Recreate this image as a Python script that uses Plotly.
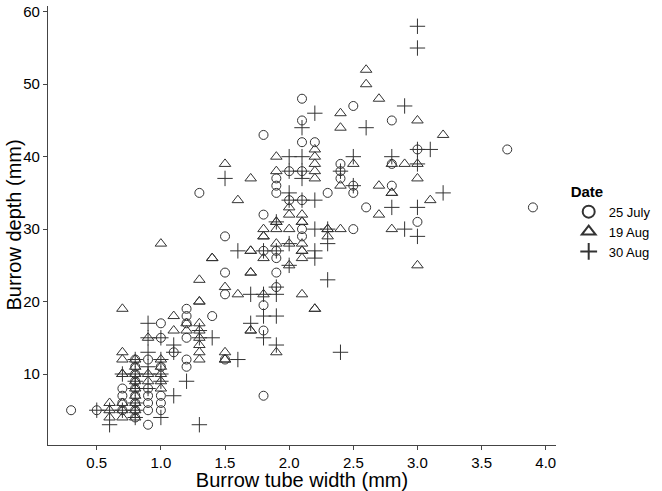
import plotly.graph_objects as go

# 25 July (open circles)
july_width = [0.3, 0.5,
              0.7, 0.7, 0.7, 0.7,
              0.8, 0.8, 0.8, 0.8, 0.8, 0.8, 0.8, 0.8, 0.8,
              0.9, 0.9, 0.9, 0.9, 0.9, 0.9,
              1.0, 1.0, 1.0, 1.0, 1.0, 1.0,
              1.1,
              1.2, 1.2, 1.2, 1.2, 1.2, 1.2,
              1.3, 1.4,
              1.5, 1.5, 1.5, 1.5,
              1.8, 1.8, 1.8, 1.8, 1.8, 1.8,
              1.9, 1.9, 1.9, 1.9, 1.9, 1.9, 1.9,
              2.0, 2.0,
              2.1, 2.1, 2.1, 2.1, 2.1, 2.1, 2.1,
              2.2, 2.3,
              2.4, 2.4, 2.4,
              2.5, 2.5, 2.5, 2.5,
              2.6,
              2.8, 2.8, 2.8,
              3.0, 3.0,
              3.7, 3.9]
july_depth = [5, 5,
              8, 7, 6, 5,
              12, 11, 10, 9, 8, 7, 6, 5, 4,
              12, 8, 7, 6, 5, 3,
              17, 15, 11, 7, 6, 5,
              13,
              19, 18, 17, 15, 12, 11,
              35, 18,
              29, 24, 21, 12,
              43, 32, 27, 19.5, 16, 7,
              37, 36, 35, 27, 26, 24, 22,
              38, 34,
              48, 45, 42, 38, 34, 30, 29,
              42, 35,
              39, 38, 37,
              47, 36, 35, 30,
              33,
              45, 39, 36,
              41, 31,
              41, 33]

# 19 Aug (open triangles)
aug19_width = [0.6, 0.6, 0.6,
               0.7, 0.7, 0.7, 0.7, 0.7, 0.7, 0.7, 0.7,
               0.8, 0.8, 0.8, 0.8, 0.8, 0.8, 0.8, 0.8, 0.8,
               0.9, 0.9, 0.9,
               1.0, 1.0, 1.0, 1.0, 1.0, 1.0,
               1.1, 1.1,
               1.2, 1.2,
               1.3, 1.3, 1.3, 1.3, 1.3, 1.3, 1.3, 1.3, 1.3,
               1.4, 1.4,
               1.5, 1.5, 1.5, 1.5, 1.5,
               1.6, 1.6,
               1.7, 1.7, 1.7, 1.7, 1.7, 1.7, 1.7,
               1.8, 1.8, 1.8, 1.8, 1.8,
               1.9, 1.9, 1.9, 1.9, 1.9, 1.9, 1.9,
               2.0, 2.0, 2.0, 2.0, 2.0,
               2.1, 2.1, 2.1, 2.1, 2.1, 2.1, 2.1, 2.1,
               2.2, 2.2, 2.2, 2.2, 2.2, 2.2, 2.2,
               2.3, 2.3, 2.3,
               2.4, 2.4, 2.4, 2.4,
               2.5,
               2.6, 2.6,
               2.7, 2.7, 2.7,
               2.8, 2.8, 2.8, 2.8,
               2.9,
               3.0, 3.0, 3.0, 3.0,
               3.1, 3.2]
aug19_depth = [6, 5, 4,
               19, 13, 12, 10, 10, 6, 5, 4,
               12, 11, 10, 9, 8, 7, 6, 5, 4,
               15, 10, 9,
               28, 12, 11, 10, 9, 8,
               18, 16,
               17, 16,
               23, 20, 20, 17, 16, 15, 14, 13, 12,
               26, 26,
               39, 22, 13, 12, 12,
               34, 21,
               37, 27, 27, 24, 24, 16, 16,
               30, 29, 29, 26, 21,
               40, 38, 31, 31, 30, 28, 13,
               33, 32, 30, 28, 25,
               32, 31, 31, 28, 27, 27, 26, 21,
               41, 40, 39, 38, 37, 19, 19,
               30, 30, 29,
               46, 44, 36, 30,
               39,
               52, 50,
               48, 36, 32,
               39, 35, 35, 30,
               39,
               45, 39, 37, 25,
               34, 43]

# 30 Aug (plus signs)
aug30_width = [0.5,
               0.6, 0.6,
               0.7, 0.7,
               0.8, 0.8, 0.8, 0.8, 0.8, 0.8, 0.8,
               0.9, 0.9, 0.9, 0.9, 0.9, 0.9,
               1.0, 1.0, 1.0, 1.0, 1.0,
               1.1, 1.1, 1.1,
               1.2,
               1.3, 1.3, 1.3,
               1.4, 1.5,
               1.6, 1.6,
               1.7, 1.7,
               1.8, 1.8, 1.8, 1.8,
               1.9, 1.9, 1.9, 1.9, 1.9, 1.9,
               2.0, 2.0, 2.0, 2.0, 2.0, 2.0,
               2.1, 2.1, 2.1, 2.1, 2.1,
               2.2, 2.2, 2.2, 2.2, 2.2,
               2.3, 2.3, 2.3,
               2.4, 2.4,
               2.5, 2.5,
               2.6,
               2.8, 2.8,
               2.9, 2.9,
               3.0, 3.0, 3.0, 3.0, 3.0, 3.0,
               3.1, 3.2]
aug30_depth = [5,
               3, 5,
               10, 5,
               12, 10, 9, 8, 6, 5, 4,
               17, 15, 13, 11, 10, 8,
               15, 12, 10, 9, 4,
               14, 13, 7,
               9,
               16, 15, 3,
               15, 37,
               27, 12,
               21, 17,
               27, 21, 18, 15,
               31, 27, 22, 21, 18, 14,
               40, 38, 35, 34, 28, 25,
               44, 40, 38, 37, 34,
               46, 34, 30, 27, 26,
               30, 28, 23,
               38, 13,
               40, 36,
               44,
               40, 33,
               47, 30,
               58, 55, 41, 39, 33, 29,
               41, 35]

x_ticks = [0.5, 1.0, 1.5, 2.0, 2.5, 3.0, 3.5, 4.0]
y_ticks = [10, 20, 30, 40, 50, 60]

ink = "#333333"
fig = go.Figure()
fig.add_trace(go.Scatter(x=july_width, y=july_depth, mode="markers", name="25 July",
                         marker=dict(symbol="circle-open", size=9, color=ink, line=dict(width=1))))
fig.add_trace(go.Scatter(x=aug19_width, y=aug19_depth, mode="markers", name="19 Aug",
                         marker=dict(symbol="triangle-up-open", size=10, color=ink, line=dict(width=1))))
fig.add_trace(go.Scatter(x=aug30_width, y=aug30_depth, mode="markers", name="30 Aug",
                         marker=dict(symbol="cross-thin-open", size=11, color=ink, line=dict(width=1))))

axis_style = dict(showline=True, linecolor="#444444", linewidth=1.2, ticks="outside",
                  ticklen=4, tickcolor="#444444", showgrid=False, zeroline=False,
                  automargin=False, tickfont=dict(size=15, color="black"))
fig.update_xaxes(range=[0.12, 4.08], tickvals=x_ticks, tickformat=".1f",
                 title=dict(text="Burrow tube width (mm)", font=dict(size=20, color="black"), standoff=1),
                 **axis_style)
fig.update_yaxes(range=[0.2, 60.8], tickvals=y_ticks, **axis_style)

# y title as an annotation so it can sit a bit closer to the tick labels
fig.add_annotation(text="Burrow depth (mm)", textangle=-90, showarrow=False,
                   xref="paper", yref="paper", x=0, y=0.5, xanchor="center",
                   xshift=-35, font=dict(size=20, color="black"))

fig.update_layout(width=662, height=491,
                  margin=dict(l=48, r=91, t=6, b=46),
                  paper_bgcolor="white", plot_bgcolor="white",
                  font=dict(family="Liberation Sans, Arial, sans-serif", color="black"),
                  legend=dict(title=dict(text="<b>Date</b>", font=dict(size=15)),
                              font=dict(size=13), x=1.025, xanchor="left",
                              y=0.61, yanchor="top", tracegroupgap=0,
                              itemwidth=30, itemsizing="constant"))

# the page body has a default 8px margin; drop it so the figure sits at the window corner
fig.write_html("out.html", config={"displayModeBar": False},
               post_script="document.body.style.margin='0px';")
